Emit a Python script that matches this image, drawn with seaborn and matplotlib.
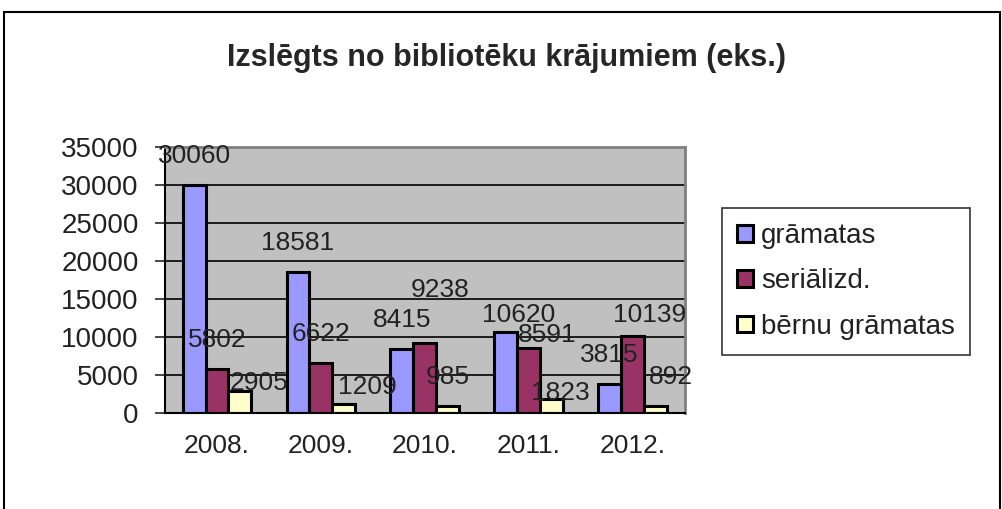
import numpy as np
import pandas as pd
import matplotlib
matplotlib.use("Agg")
import matplotlib.pyplot as plt
import seaborn as sns
from matplotlib.patches import Rectangle

# chart data
years = ["2008.", "2009.", "2010.", "2011.", "2012."]
series = ["grāmatas", "seriālizd.", "bērnu grāmatas"]
gramatas = [30060, 18581, 8415, 10620, 3815]
serializd = [5802, 6622, 9238, 8591, 10139]
bernu = [2905, 1209, 985, 1823, 892]
colors = ["#9999FF", "#993366", "#FFFFCC"]
y_ticks = [0, 5000, 10000, 15000, 20000, 25000, 30000, 35000]

# label offsets in pixels (dx, dy above bar top) - Excel put them a bit unevenly
label_shift = {
    (1, 2): (15, 53), (1, 3): (19, 13), (1, 4): (17, 21),
    (0, 3): (13, 17),
    (2, 0): (19, 8), (2, 1): (24, 17), (2, 3): (9, 6), (2, 4): (15, 29),
}

df = pd.DataFrame({
    "year": years * 3,
    "series": [series[0]] * 5 + [series[1]] * 5 + [series[2]] * 5,
    "value": gramatas + serializd + bernu,
})

sns.set_style("white")
plt.rcParams["font.family"] = ["Liberation Sans", "DejaVu Sans"]

fig = plt.figure(figsize=(10.03, 5.09), dpi=100)
ax = fig.add_axes([0.1645, 0.1886, 0.518, 0.5226])
ax.set_facecolor("#C0C0C0")

sns.barplot(data=df, x="year", y="value", hue="series", palette=colors,
            width=0.66, gap=0, edgecolor="black", linewidth=2.2,
            saturation=1, ax=ax, legend=True)

# data labels
for i, cont in enumerate(ax.containers):
    for j, bar in enumerate(cont):
        h = bar.get_height()
        dx, dy = label_shift.get((i, j), (0, 29))
        ax.annotate(f"{h:.0f}", (bar.get_x() + bar.get_width() / 2, h),
                    xytext=(dx, dy), textcoords="offset pixels",
                    ha="center", va="center", fontsize=19, color="#222222")

ax.set_ylim(0, 35000)
ax.set_xlim(-0.5, 4.5)
ax.set_yticks(y_ticks)
ax.set_yticklabels([str(v) for v in y_ticks], fontsize=20, color="#222222")
ax.yaxis.grid(True, color="black", linewidth=1.2)
ax.set_axisbelow(True)
ax.set_xlabel("")
ax.set_ylabel("")
ax.tick_params(axis="x", which="major", length=0, labelsize=19, pad=15,
               labelcolor="#222222")
ax.set_xticks(np.arange(-0.5, 5.0, 1.0), minor=True)
ax.tick_params(axis="x", which="minor", length=7, width=1.2, direction="out")
ax.tick_params(axis="y", length=7, width=1.2, direction="out", pad=12, left=True)

for s in ["left", "bottom"]:
    ax.spines[s].set_color("black")
    ax.spines[s].set_linewidth(1.5)
for s in ["top", "right"]:
    ax.spines[s].set_color("#808080")
    ax.spines[s].set_linewidth(2)

# legend on the right
handles, labels = ax.get_legend_handles_labels()
ax.legend_.remove()
leg = fig.legend(handles, labels, loc="center left", bbox_to_anchor=(0.72, 0.447),
                 fontsize=20, frameon=True, fancybox=False, edgecolor="black",
                 handlelength=0.55, handleheight=0.55, handletextpad=0.3,
                 labelspacing=0.7, borderpad=0.55, borderaxespad=0)
leg.get_frame().set_linewidth(1.2)
for t in leg.get_texts():
    t.set_color("#222222")

fig.text(0.505, 0.886, "Izslēgts no bibliotēku krājumiem (eks.)",
         ha="center", va="center", fontsize=22, fontweight="bold")

# outer chart border
fig.patches.append(Rectangle((4 / 1003, -0.01), 996 / 1003, 1 - 12 / 509 + 0.01,
                             transform=fig.transFigure, fill=False,
                             edgecolor="black", linewidth=1.5))

fig.savefig("out.png", dpi=100)
